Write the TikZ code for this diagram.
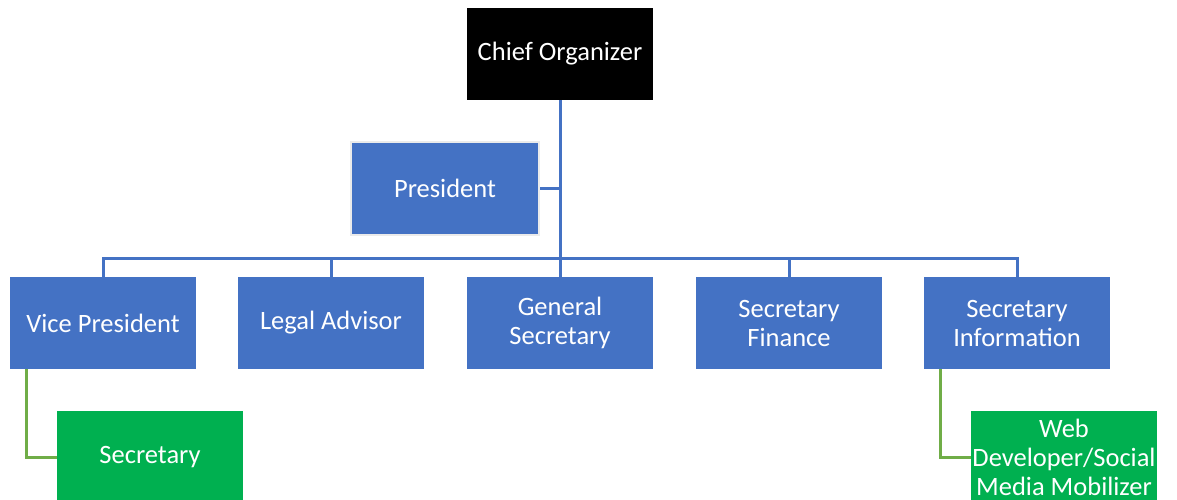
\documentclass[tikz,border=0pt]{standalone}
\usepackage{fontspec}
\setmainfont{Carlito}
\definecolor{boxblue}{HTML}{4472C4}
\definecolor{boxgreen}{HTML}{00B050}
\definecolor{linegreen}{HTML}{70AD47}
\begin{document}
\begin{tikzpicture}[x=1pt,y=-1pt,
  box/.style={fill=boxblue,text=white,minimum width=186pt,minimum height=92pt,inner sep=0pt,align=center,font=\fontsize{26.5}{29}\selectfont},
  gbox/.style={box,fill=boxgreen},
  blueline/.style={draw=boxblue,line width=3pt},
  greenline/.style={draw=linegreen,line width=3pt}]
\useasboundingbox (0,0) rectangle (1177,499);
\fill[white] (0,0) rectangle (1177,499);
\node[box,fill=black] (chief) at (560,54) {Chief Organizer};
\node[box,draw=black!8,line width=2pt,minimum width=188pt,minimum height=93pt] (pres) at (445,188) {President};
\node[box] (vp) at (103,323) {Vice President};
\node[box] (legal) at (331,323) {Legal Advisor};
\node[box] (gs) at (560,323) {General\\Secretary};
\node[box] (sf) at (789,323) {Secretary\\Finance};
\node[box] (si) at (1017,323) {Secretary\\Information};
\node[gbox] (sec) at (150,457) {Secretary};
\node[gbox] (web) at (1064,457) {Web\\Developer/Social\\Media Mobilizer};
\coordinate (bus) at (560,258);
\draw[blueline] (chief.south) -- (gs.north);
\draw[blueline] (pres.east) -- (pres.east -| chief.south);
\draw[blueline] (vp.north) |- (bus) -| (si.north);
\draw[blueline] (legal.north) -- (legal.north |- bus);
\draw[blueline] (sf.north) -- (sf.north |- bus);
\draw[greenline] (vp.south west) ++(17,0) coordinate (v1) (v1) |- (sec.west);
\draw[greenline] (si.south west) ++(17,0) coordinate (s1) (s1) |- (web.west);
\end{tikzpicture}
\end{document}
